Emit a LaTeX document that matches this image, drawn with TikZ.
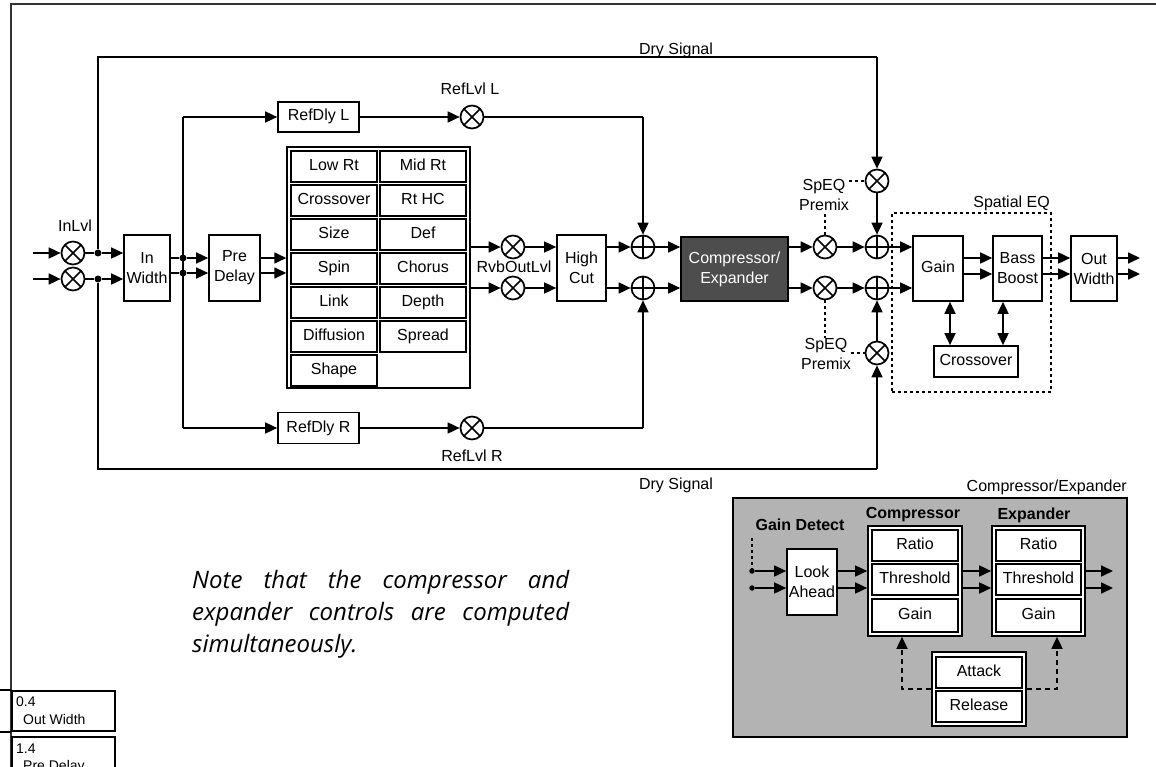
\documentclass[tikz,border=0pt]{standalone}
\usepackage{fontspec}
\setmainfont{Liberation Sans}
\newfontfamily\notefont{Open Sans}
\usetikzlibrary{arrows.meta}
\newcommand\myfs{\fontsize{16}{20}\selectfont}
\newcommand\smfs{\fontsize{14}{16}\selectfont}
\newcommand\notefs{\fontsize{24}{32}\selectfont\notefont\itshape}
\definecolor{darkbox}{HTML}{4D4D4D}
\definecolor{graybg}{HTML}{B3B3B3}
\begin{document}
\begin{tikzpicture}[x=1pt,y=-1pt, font=\myfs,
 ln/.style={line width=1.7pt},
 arr/.style={line width=1.7pt,-{Triangle[length=12pt,width=11pt]}},
 darr/.style={line width=1.7pt,{Triangle[length=12pt,width=11pt]}-{Triangle[length=12pt,width=11pt]}},
 dasharr/.style={line width=1.7pt,dash pattern=on 5pt off 4pt,-{Triangle[length=12pt,width=11pt]}},
 blk/.style={draw,line width=1.7pt,fill=white,align=center,inner sep=0pt},
 one/.style={text height=11.5pt,text depth=3.5pt},
 cell/.style={draw,line width=2pt,fill=white,inner sep=0pt,minimum width=86pt,minimum height=31pt,text height=11.5pt,text depth=3.5pt},
 mult/.style={circle,draw,line width=1.7pt,fill=white,minimum size=23pt,inner sep=0pt,
   path picture={\draw[line width=1.5pt] (path picture bounding box.north west) -- (path picture bounding box.south east) (path picture bounding box.north east) -- (path picture bounding box.south west);}},
 add/.style={circle,draw,line width=1.7pt,fill=white,minimum size=23pt,inner sep=0pt,
   path picture={\draw[line width=1.5pt] (path picture bounding box.north) -- (path picture bounding box.south) (path picture bounding box.east) -- (path picture bounding box.west);}},
 jdot/.style={circle,fill,inner sep=0pt,minimum size=7pt},
 sdot/.style={circle,fill,inner sep=0pt,minimum size=5.5pt},
 dotln/.style={line width=1.7pt,dash pattern=on 3pt off 3pt},
 lbl/.style={inner sep=0pt,align=center},
]
\useasboundingbox (0,0) rectangle (1156,767);
\fill[white] (0,0) rectangle (1156,767);
% page frame
\draw[line width=1.5pt,black!80] (11,767) -- (11,4) -- (1156,4);

% helper rows
\coordinate (y1) at (0,258); \coordinate (y2) at (0,274);
\coordinate (ya) at (0,247); \coordinate (yb) at (0,288);

% ---------- input stage ----------
\node[mult] (m1) at (73,253) {};
\node[mult] (m2) at (73,279) {};
\node[lbl] (inlvl) at (75,226) {InLvl};
\coordinate (i1) at (33,253); \coordinate (i2) at (33,279);
\node[jdot] (d1) at (98,253) {};
\node[jdot] (d2) at (98,279) {};
\node[blk,minimum width=46pt,minimum height=66pt] (inw) at (147,268) {In\\Width};
\node[jdot] (e1) at (183,258) {};
\node[jdot] (e2) at (183,273) {};
\node[blk,minimum width=51pt,minimum height=66pt] (pre) at (234.5,268) {Pre\\Delay};

\draw[arr] (i1) -- (m1);
\draw[arr] (i2) -- (m2);
\draw[ln] (m1) -- (d1);
\draw[ln] (m2) -- (d2);
\draw[arr] (d1) -- (inw.west |- d1);
\draw[arr] (d2) -- (inw.west |- d2);
\draw[ln] (inw.east |- e1) -- (e1);
\draw[ln] (inw.east |- e2) -- (e2);
\draw[arr] (e1) -- (pre.west |- e1);
\draw[arr] (e2) -- (pre.west |- e2);

% ---------- reverb matrix ----------
\node[draw,line width=1.5pt,minimum width=183pt,minimum height=241pt,inner sep=0pt] (mtx) at (378.5,267.5) {};
\foreach \t [count=\i] in {Low Rt,Crossover,Size,Spin,Link,Diffusion,Shape}
  \node[cell] (ca\i) at (334,{166.5+34*(\i-1)}) {\t};
\foreach \t [count=\i] in {Mid Rt,Rt HC,Def,Chorus,Depth,Spread}
  \node[cell] (cb\i) at (423,{166.5+34*(\i-1)}) {\t};
\draw[arr] (pre.east |- e1) -- (mtx.west |- e1);
\draw[arr] (pre.east |- e2) -- (mtx.west |- e2);

% ---------- reflections ----------
\coordinate (rl) at (183,117);
\coordinate (rr) at (183,428);
\node[blk,one,minimum width=81pt,minimum height=30pt] (rdl) at (318.5,117) {RefDly L};
\node[blk,one,minimum width=81pt,minimum height=31pt] (rdr) at (318.5,428) {RefDly R};
\node[mult] (rml) at (472,117) {};
\node[mult] (rmr) at (472,428) {};
\node[lbl] (rll) at (470,89) {RefLvl L};
\node[lbl] (rlr) at (472,456) {RefLvl R};
\coordinate (tj) at (643,117);
\coordinate (bj) at (643,428);
\draw[ln] (rl) -- (rr);
\draw[arr] (rl) -- (rdl);
\draw[arr] (rr) -- (rdr);
\draw[arr] (rdl) -- (rml);
\draw[arr] (rdr) -- (rmr);
\draw[ln] (rml) -- (tj);
\draw[ln] (rmr) -- (bj);

% ---------- reverb out ----------
\node[mult] (r1) at (513,247) {};
\node[mult] (r2) at (513,288) {};
\node[lbl] (rvb) at (514,267) {RvbOutLvl};
\node[blk,minimum width=49pt,minimum height=66pt] (hc) at (581.5,268) {High\\Cut};
\node[add] (a1) at (643,247) {};
\node[add] (a2) at (643,288) {};
\node[blk,fill=darkbox,text=white,minimum width=107pt,minimum height=64pt] (cmp) at (734.5,269) {Compressor/\\Expander};
\draw[arr] (mtx.east |- r1) -- (r1);
\draw[arr] (mtx.east |- r2) -- (r2);
\draw[arr] (r1) -- (hc.west |- r1);
\draw[arr] (r2) -- (hc.west |- r2);
\draw[arr] (hc.east |- a1) -- (a1);
\draw[arr] (hc.east |- a2) -- (a2);
\draw[arr] (tj) -- (a1);
\draw[arr] (bj) -- (a2);
\draw[arr] (a1) -- (cmp.west |- a1);
\draw[arr] (a2) -- (cmp.west |- a2);

% ---------- dry signal / premix ----------
\coordinate (tl) at (98,57); \coordinate (tr) at (877,57);
\coordinate (bl) at (98,469); \coordinate (br) at (877,469);
\node[lbl] (dst) at (676,50) {Dry Signal};
\node[lbl] (dsb) at (676,485) {Dry Signal};
\node[mult] (s1) at (825,247) {};
\node[mult] (s2) at (825,288) {};
\node[add] (b1) at (877,247) {};
\node[add] (b2) at (877,288) {};
\node[mult] (tm) at (877,181) {};
\node[mult] (bm) at (877,353) {};
\node[lbl] (sp1) at (824,195) {SpEQ\\Premix};
\node[lbl] (sp2) at (826,354) {SpEQ\\Premix};
\draw[ln] (d1) -- (tl) -- (tr);
\draw[ln] (d2) -- (bl) -- (br);
\draw[arr] (tr) -- (tm);
\draw[arr] (br) -- (bm);
\draw[arr] (tm) -- (b1);
\draw[arr] (bm) -- (b2);
\draw[arr] (cmp.east |- s1) -- (s1);
\draw[arr] (cmp.east |- s2) -- (s2);
\draw[arr] (s1) -- (b1);
\draw[arr] (s2) -- (b2);
\draw[dotln] (sp1.east |- tm) -- (tm.west);
\draw[dotln] (sp2.east |- bm) -- (bm.west);
\draw[dotln] (s1.north) -- (s1.north |- sp1.south);
\draw[dotln] (s2.south) -- (s2.south |- sp2.north);

% ---------- spatial EQ ----------
\node[draw,line width=2pt,dash pattern=on 3pt off 3pt,minimum width=159pt,minimum height=179pt,inner sep=0pt] (seq) at (971.5,302.5) {};
\node[lbl,anchor=east] (seql) at (1050,203) {Spatial EQ};
\node[blk,one,minimum width=50pt,minimum height=65pt] (gain) at (938,268.5) {Gain};
\node[blk,minimum width=49pt,minimum height=65pt] (bb) at (1017.5,268.5) {Bass\\Boost};
\node[blk,minimum width=46pt,minimum height=65pt] (ow) at (1094,268.5) {Out\\Width};
\node[blk,one,minimum width=84pt,minimum height=31pt] (xo) at (976,361.5) {Crossover};
\coordinate (gx) at (950,0); \coordinate (bx) at (1003,0);
\coordinate (o1) at (1140,258); \coordinate (o2) at (1140,274);
\draw[arr] (b1) -- (gain.west |- b1);
\draw[arr] (b2) -- (gain.west |- b2);
\draw[arr] (gain.east |- y1) -- (bb.west |- y1);
\draw[arr] (gain.east |- y2) -- (bb.west |- y2);
\draw[arr] (bb.east |- y1) -- (ow.west |- y1);
\draw[arr] (bb.east |- y2) -- (ow.west |- y2);
\draw[arr] (ow.east |- o1) -- (o1);
\draw[arr] (ow.east |- o2) -- (o2);
\draw[darr] (gain.south -| gx) -- (xo.north -| gx);
\draw[darr] (bb.south -| bx) -- (xo.north -| bx);

% ---------- compressor / expander detail ----------
\node[draw,line width=1.7pt,fill=graybg,minimum width=394pt,minimum height=239pt,inner sep=0pt] (cebox) at (930,617.5) {};
\node[lbl,anchor=east] (celbl) at (1127,487) {Compressor/Expander};
\node[lbl,font=\myfs\bfseries] (gdl) at (800,525) {Gain Detect};
\node[lbl,font=\myfs\bfseries] (cmpl) at (913,515) {Compressor};
\node[lbl,font=\myfs\bfseries] (expl) at (1034,515) {Expander};
\node[blk,minimum width=50pt,minimum height=66pt] (la) at (812,582) {Look\\Ahead};
\node[blk,minimum width=94pt,minimum height=110pt] (cmpo) at (915,581) {};
\node[cell] (cr) at (915,545.5) {Ratio};
\node[cell] (ct) at (915,579.5) {Threshold};
\node[cell,minimum height=33pt] (cg) at (915,615) {Gain};
\node[blk,minimum width=93pt,minimum height=110pt] (expo) at (1038.5,581) {};
\node[cell,minimum width=85pt] (er) at (1038.5,545.5) {Ratio};
\node[cell,minimum width=85pt] (et) at (1038.5,579.5) {Threshold};
\node[cell,minimum width=85pt,minimum height=33pt] (eg) at (1038.5,615) {Gain};
\node[blk,minimum width=94pt,minimum height=74pt] (ar) at (979,689) {};
\node[cell] (atk) at (979,672) {Attack};
\node[cell] (rel) at (979,706.5) {Release};
\coordinate (gtop) at (752,538);
\node[sdot] (gd1) at (752,571) {};
\node[sdot] (gd2) at (752,588) {};
\coordinate (co1) at (1113,571); \coordinate (co2) at (1113,588);
\coordinate (ac1) at (902,689); \coordinate (ac2) at (1057,689);
\draw[dotln] (gtop) -- (gd1);
\draw[arr] (gd1) -- (la.west |- gd1);
\draw[arr] (gd2) -- (la.west |- gd2);
\draw[arr] (la.east |- gd1) -- (cmpo.west |- gd1);
\draw[arr] (la.east |- gd2) -- (cmpo.west |- gd2);
\draw[arr] (cmpo.east |- gd1) -- (expo.west |- gd1);
\draw[arr] (cmpo.east |- gd2) -- (expo.west |- gd2);
\draw[arr] (expo.east |- co1) -- (co1);
\draw[arr] (expo.east |- co2) -- (co2);
\draw[dasharr] (ar.west) -- (ac1) -- (ac1 |- cmpo.south);
\draw[dasharr] (ar.east) -- (ac2) -- (ac2 |- expo.south);

% ---------- note ----------
\node[inner sep=0pt,anchor=base west,font=\notefs] (note1) at (192,588) {\makebox[377pt][s]{Note that the compressor and}};
\node[inner sep=0pt,anchor=base west,font=\notefs] (note2) at (192,620) {\makebox[377pt][s]{expander controls are computed}};
\node[inner sep=0pt,anchor=base west,font=\notefs] (note3) at (192,652) {simultaneously.};

% ---------- bottom-left fragments ----------
\node[draw,line width=1.8pt,minimum width=103pt,minimum height=40pt,inner sep=0pt,anchor=north west] (pb1) at (11,690) {};
\node[draw,line width=1.8pt,minimum width=103pt,minimum height=50pt,inner sep=0pt,anchor=north west] (pb2) at (11,736) {};
\draw[line width=1.8pt] (pb1.north west) -- ++(-12,0);
\draw[line width=1.8pt] (pb1.south west) -- ++(-12,0);
\node[lbl,font=\smfs,anchor=west] (pv1) at (16,702) {0.4};
\node[lbl,font=\smfs,anchor=west] (pn1) at (23,719) {Out Width};
\node[lbl,font=\smfs,anchor=west] (pv2) at (16,749) {1.4};
\node[lbl,font=\smfs,anchor=west] (pn2) at (23,767) {Pre Delay};
\end{tikzpicture}
\end{document}
